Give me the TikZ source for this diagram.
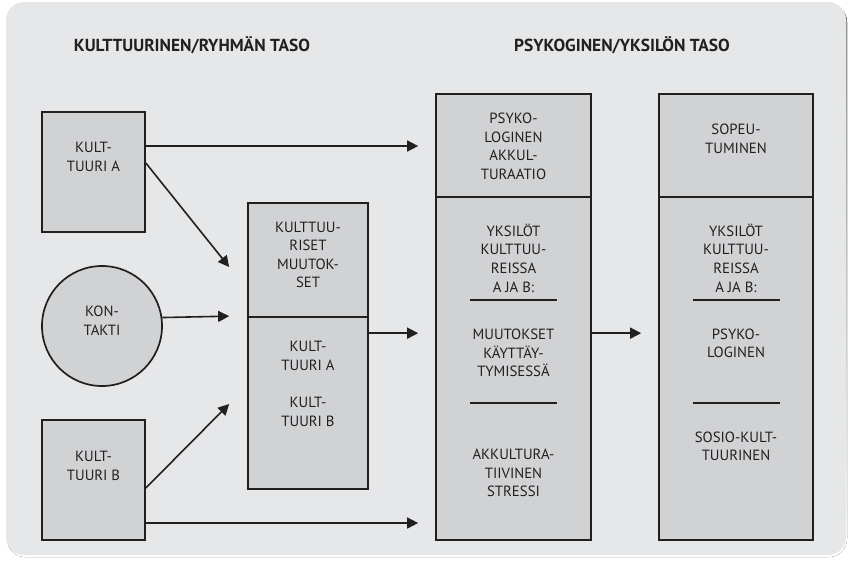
\documentclass[tikz,border=0pt]{standalone}
\usepackage{fontspec}
\setmainfont{PT Sans}
\usetikzlibrary{arrows.meta}
\definecolor{panel}{HTML}{E6E7E8}
\definecolor{boxfill}{HTML}{D1D2D4}
\definecolor{ink}{HTML}{231F20}
\definecolor{shade}{HTML}{B5B6B8}
\tikzset{
  box/.style={draw=ink, line width=1.7pt, fill=boxfill, rectangle, inner sep=0pt},
  txt/.style={align=center, text=ink, font=\fontsize{14.8}{18.6}\selectfont, inner sep=0pt},
  head/.style={text=ink, font=\fontsize{17.4}{19}\selectfont\bfseries, inner sep=0pt},
  arr/.style={draw=ink, line width=1.6pt, -{Triangle[length=11pt,width=11pt]}},
  rule/.style={draw=ink, line width=1.4pt}
}
\begin{document}
\begin{tikzpicture}[x=1pt, y=-1pt]
\useasboundingbox (0,0) rectangle (848,560);
% panel with a soft lower shadow
\fill[shade, rounded corners=18pt] (7,4) rectangle (847,557);
\fill[panel, rounded corners=18pt] (6,2) rectangle (846,555);

% headings
\node[head] (h1) at (192,45) {KULTTUURINEN/RYHMÄN TASO};
\node[head] (h2) at (622,45) {PSYKOGINEN/YKSILÖN TASO};

% cultural level
\node[box, minimum width=103pt, minimum height=120pt] (kA) at (93.5,172) {};
\node[txt] (tA) at (93.5,157) {KULT-\\TUURI A};
\node[draw=ink, line width=1.7pt, fill=boxfill, circle, minimum size=120pt, inner sep=0pt] (kon) at (102,326) {};
\node[txt] (tkon) at (102,321) {KON-\\TAKTI};
\node[box, minimum width=103pt, minimum height=120pt] (kB) at (93.5,480) {};
\node[txt] (tB) at (93.5,466) {KULT-\\TUURI B};

\node[box, minimum width=120pt, minimum height=114pt] (muTop) at (308,260) {};
\node[box, minimum width=120pt, minimum height=172pt] (muBot) at (308,403) {};
\node[txt] (tmu) at (308,255) {KULTTUU-\\RISET\\MUUTOK-\\SET};
\node[txt] (tmuA) at (308,356) {KULT-\\TUURI A};
\node[txt] (tmuB) at (308,412) {KULT-\\TUURI B};

% individual level
\node[box, minimum width=155pt, minimum height=103pt] (psTop) at (513.5,145.5) {};
\node[box, minimum width=155pt, minimum height=343pt] (psBot) at (513.5,368.5) {};
\node[txt] (tps) at (513.5,146.5) {PSYKO-\\LOGINEN\\AKKUL-\\TURAATIO};
\node[txt] (tps1) at (513.5,258) {YKSILÖT\\KULTTUU-\\REISSA\\A JA B:};
\node[txt] (tps2) at (513.5,353) {MUUTOKSET\\KÄYTTÄY-\\TYMISESSÄ};
\node[txt] (tps3) at (513.5,473) {AKKULTURA-\\TIIVINEN\\STRESSI};
\draw[rule] (470,300) -- (557,300);
\draw[rule] (470,403) -- (557,403);

\node[box, minimum width=154pt, minimum height=103pt] (soTop) at (736,145.5) {};
\node[box, minimum width=154pt, minimum height=343pt] (soBot) at (736,368.5) {};
\node[txt] (tso) at (736,139) {SOPEU-\\TUMINEN};
\node[txt] (tso1) at (736,258) {YKSILÖT\\KULTTUU-\\REISSA\\A JA B:};
\node[txt] (tso2) at (736,343.5) {PSYKO-\\LOGINEN};
\node[txt] (tso3) at (736,446.5) {SOSIO-KULT-\\TUURINEN};
\draw[rule] (693,300) -- (780,300);
\draw[rule] (693,403) -- (780,403);

% connectors
\coordinate (a1) at ([yshift=26pt]kA.east);
\draw[arr, shorten >=17pt] (a1) -- (a1 -| psTop.west);
\draw[arr] ([yshift=9pt]kA.east) -- ([xshift=-18pt,yshift=-7pt]muTop.west);
\draw[arr] (kon.8.6) -- ([xshift=-18pt]muBot.north west);
\draw[arr] ([yshift=-8pt]kB.east) -- ([xshift=-18pt,yshift=-1pt]muBot.west);
\coordinate (b1) at ([yshift=-43pt]kB.east);
\draw[arr, shorten >=17pt] (b1) -- (b1 -| psBot.west);
\coordinate (m1) at ([yshift=-17pt]muBot.north east);
\draw[arr, shorten >=17pt] (m1) -- (m1 -| psBot.west);
\coordinate (p1) at ([yshift=-137pt]psBot.north east);
\draw[arr, shorten >=17pt] (p1) -- (p1 -| soBot.west);
\end{tikzpicture}
\end{document}
